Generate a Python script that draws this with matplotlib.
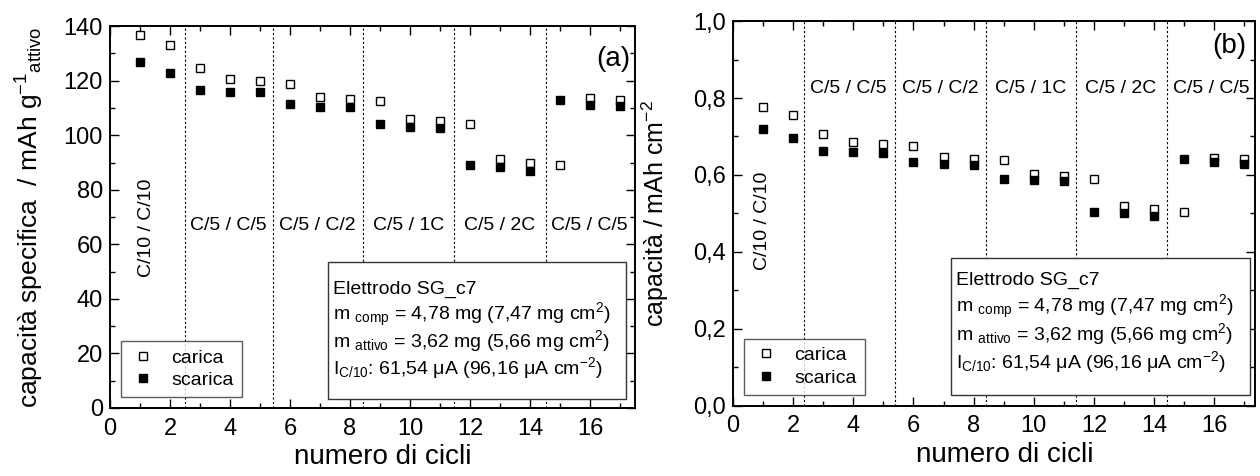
import numpy as np
import matplotlib
matplotlib.use('Agg')
import matplotlib.pyplot as plt
from matplotlib.lines import Line2D
from matplotlib.patches import Rectangle
from matplotlib.ticker import MultipleLocator

plt.rcParams['font.family'] = ['Liberation Sans', 'DejaVu Sans']
plt.rcParams['mathtext.default'] = 'regular'

cicli = np.arange(1, 18)

# capacita specifica (mAh g-1 attivo)
carica_a = [136.7, 133.0, 124.5, 120.7, 120.0, 118.8, 113.9, 113.3, 112.4,
            105.9, 105.2, 104.2, 91.3, 89.9, 89.2, 113.5, 113.0]
scarica_a = [126.7, 123.0, 116.7, 116.0, 115.8, 111.3, 110.5, 110.2, 104.0,
             103.0, 102.5, 89.0, 88.2, 87.0, 113.0, 111.2, 110.6]

# capacita areale (mAh cm-2)
carica_b = [0.776, 0.755, 0.706, 0.686, 0.681, 0.674, 0.646, 0.642, 0.638,
            0.602, 0.597, 0.590, 0.519, 0.511, 0.503, 0.645, 0.642]
scarica_b = [0.719, 0.697, 0.661, 0.659, 0.657, 0.633, 0.629, 0.627, 0.590,
             0.586, 0.583, 0.504, 0.500, 0.494, 0.642, 0.634, 0.629]

separatori_a = [2.5, 5.42, 8.44, 11.45, 14.53]
separatori_b = [2.36, 5.38, 8.4, 11.41, 14.44]
regimi = ['C/5 / C/5', 'C/5 / C/2', 'C/5 / 1C', 'C/5 / 2C', 'C/5 / C/5']
pos_regimi_a = [3.96, 6.9, 9.97, 13.0, 15.98]
pos_regimi_b = [3.83, 6.88, 9.9, 12.9, 15.9]

yticks_b = [0.0, 0.2, 0.4, 0.6, 0.8, 1.0]
yticklabels_b = ['0,0', '0,2', '0,4', '0,6', '0,8', '1,0']

info = ['Elettrodo SG_c7',
        r'm $_{comp}$ = 4,78 mg (7,47 mg cm$^{2}$)',
        r'm $_{attivo}$ = 3,62 mg (5,66 mg cm$^{2}$)',
        r'I$_{C/10}$: 61,54 μA (96,16 μA cm$^{-2}$)']

fs_tick = 17
fs_xlab = 20
fs_txt = 14
fs_reg = 14

fig = plt.figure(figsize=(12.6, 4.76), dpi=100)
ax1 = fig.add_axes([0.0873, 0.1429, 0.4167, 0.802])
ax2 = fig.add_axes([0.5817, 0.1477, 0.4143, 0.808])


def stile(ax, xmax, ymax, ymin_step):
    ax.set_xlim(0, xmax)
    ax.set_ylim(0, ymax)
    ax.xaxis.set_major_locator(MultipleLocator(2))
    ax.xaxis.set_minor_locator(MultipleLocator(1))
    ax.yaxis.set_minor_locator(MultipleLocator(ymin_step))
    ax.tick_params(which='both', direction='in', top=True, right=True,
                   width=1.0, labelsize=fs_tick)
    ax.tick_params(which='major', length=6.5)
    ax.tick_params(which='minor', length=3.5)
    ax.tick_params(axis='x', pad=7)
    ax.tick_params(axis='y', pad=5)
    for s in ax.spines.values():
        s.set_linewidth(1.4)
    ax.set_xlabel('numero di cicli', fontsize=fs_xlab)
    ax.xaxis.set_label_coords(0.52, -0.095)


def disegna(ax, car, sca, sep, pos, ytxt, xc10, yc10):
    for x in sep:
        ax.axvline(x, color='k', ls=(0, (2, 2)), lw=0.8)
    ax.plot(cicli, car, 's', ms=5.2, mfc='white', mec='k', mew=1.0, ls='none')
    ax.plot(cicli, sca, 's', ms=5.2, mfc='k', mec='k', mew=1.0, ls='none')
    for x, t in zip(pos, regimi):
        ax.text(x, ytxt, t, ha='center', va='center', fontsize=fs_reg)
    ax.text(xc10, yc10, 'C/10 / C/10', rotation=90, ha='center',
            va='center', fontsize=fs_reg)


# (a)
stile(ax1, 17.5, 140, 10)
ax1.yaxis.set_major_locator(MultipleLocator(20))
disegna(ax1, carica_a, scarica_a, separatori_a, pos_regimi_a, 67, 1.23, 66)
ax1.set_ylabel(r'capacità specifica  / mAh g$^{-1}$$_{attivo}$', fontsize=19)
ax1.yaxis.set_label_coords(-0.122, 0.5)
ax1.text(17.35, 128, '(a)', ha='right', va='center', fontsize=fs_xlab)

# (b)
stile(ax2, 17.35, 1.0, 0.1)
ax2.set_yticks(yticks_b)
ax2.set_yticklabels(yticklabels_b)
disegna(ax2, carica_b, scarica_b, separatori_b, pos_regimi_b, 0.826, 0.97, 0.48)
ax2.set_ylabel(r'capacità / mAh cm$^{-2}$', fontsize=18)
ax2.yaxis.set_label_coords(-0.119, 0.5)
ax2.text(17.05, 0.934, '(b)', ha='right', va='center', fontsize=fs_xlab)

# legenda e riquadro info
handles = [Line2D([], [], marker='s', ls='none', ms=5.2, mfc='white', mec='k'),
           Line2D([], [], marker='s', ls='none', ms=5.2, mfc='k', mec='k')]
for ax, box, ylines in [
        (ax1, (7.26, 3.3, 9.95, 50.2), [43.6, 34.0, 24.4, 14.8]),
        (ax2, (7.24, 0.028, 9.93, 0.355), [0.327, 0.256, 0.185, 0.114])]:
    leg = ax.legend(handles, ['carica', 'scarica'], loc='lower left',
                    bbox_to_anchor=(0.021, 0.029), borderaxespad=0,
                    fontsize=fs_reg, frameon=True, fancybox=False,
                    edgecolor='#333333', borderpad=0.4, handletextpad=0.7,
                    labelspacing=0.25, handlelength=1.5)
    leg.get_frame().set_linewidth(1.0)
    ax.add_patch(Rectangle(box[:2], box[2], box[3], fc='white',
                           ec='#333333', lw=1.0, zorder=4))
    for y, t in zip(ylines, info):
        ax.text(box[0] + 0.17, y, t, ha='left', va='center',
                fontsize=fs_txt, zorder=5)

fig.savefig('out.png', dpi=100)
